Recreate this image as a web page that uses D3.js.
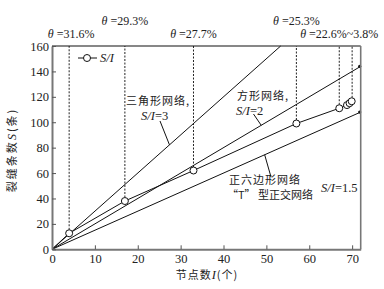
<!DOCTYPE html>
<html><head><meta charset="utf-8">
<script src="https://cdn.jsdelivr.net/npm/d3@7"></script>
<style>body{margin:0;background:#fff}svg{display:block}</style>
</head><body>
<svg id="c" width="384" height="289"></svg>
<script>
const nodesI = [0, 4, 17, 33, 57, 67, 68.8, 69.4, 69.9];
const cracksS = [0, 12.6, 38, 62, 99, 111, 113.5, 115, 116.5];
const dashI = [4, 17, 33, 57, 67, 70];
const thetaAt = [4, 17, 33, 57, 67];
const thetaText = ["31.6%", "29.3%", "27.7%", "25.3%", "22.6%~3.8%"];
const thetaRow = [0, 1, 0, 1, 0];
const ratios = [3, 2, 1.5];
const xTicks = [0, 10, 20, 30, 40, 50, 60, 70];
const yTicks = [0, 20, 40, 60, 80, 100, 120, 140, 160];

const W = 384, H = 289, m = {l: 52, r: 23.3, t: 46, b: 39.7};
const svg = d3.select("#c");
const x = d3.scaleLinear().domain([0, 72]).range([m.l, W - m.r]);
const y = d3.scaleLinear().domain([0, 160]).range([H - m.b, m.t]);
const serif = "'Liberation Serif','DejaVu Serif',serif";
const cjk = "'Noto Sans CJK SC',sans-serif";

// dashed verticals
svg.selectAll(".dash").data(dashI).join("line")
  .attr("x1", d => x(d)).attr("x2", d => x(d))
  .attr("y1", d => {
    const j = nodesI.findIndex(v => Math.abs(v - d) < 0.5);
    return j >= 0 ? y(cracksS[j]) - 3.5 : y(cracksS[cracksS.length - 1]) - 3.5;
  })
  .attr("y2", y(160))
  .attr("stroke", "#222").attr("stroke-width", 1).attr("stroke-dasharray", "2,1.5");

// ratio lines
ratios.forEach(r => {
  const xe = Math.min(72, 160 / r);
  svg.append("line").attr("x1", x(0)).attr("y1", y(0)).attr("x2", x(xe)).attr("y2", y(xe * r))
    .attr("stroke", "#111").attr("stroke-width", 1);
  if (xe === 72) svg.append("circle").attr("cx", x(xe) - 1).attr("cy", y(xe * r)).attr("r", 1.6).attr("fill", "#111");
});

// data line
svg.append("path").datum(nodesI.map((d, i) => [d, cracksS[i]]))
  .attr("d", d3.line().x(d => x(d[0])).y(d => y(d[1])))
  .attr("fill", "none").attr("stroke", "#111").attr("stroke-width", 1);
svg.selectAll(".pt").data(nodesI.slice(1).map((d, i) => [d, cracksS[i + 1]])).join("circle")
  .attr("cx", d => x(d[0])).attr("cy", d => y(d[1])).attr("r", 3.5)
  .attr("fill", "#fff").attr("stroke", "#111").attr("stroke-width", 1);

// frame
svg.append("line").attr("x1", x(0)).attr("x2", x(72)).attr("y1", y(160)).attr("y2", y(160)).attr("stroke", "#111").attr("stroke-width", 1.2);
svg.append("line").attr("x1", x(72)).attr("x2", x(72)).attr("y1", y(160)).attr("y2", y(0)).attr("stroke", "#777").attr("stroke-width", 1.6);

// axes
const xa = svg.append("g").attr("transform", `translate(0,${y(0)})`)
  .call(d3.axisBottom(x).tickValues(xTicks).tickSize(-4).tickPadding(5).tickSizeOuter(0));
const ya = svg.append("g").attr("transform", `translate(${x(0)},0)`)
  .call(d3.axisLeft(y).tickValues(yTicks).tickSize(-4).tickPadding(3).tickSizeOuter(0));
[xa, ya].forEach(g => {
  g.select(".domain").attr("stroke", "#777").attr("stroke-width", 2);
  g.selectAll(".tick line").attr("stroke", "#555");
  g.selectAll("text").attr("font-family", serif).attr("font-size", 12.5).attr("fill", "#222");
});

// axis titles
const xt = svg.append("text").attr("x", 207).attr("y", 279).attr("text-anchor", "middle")
  .attr("font-size", 11).attr("fill", "#222").attr("letter-spacing", 1);
xt.append("tspan").attr("font-family", cjk).text("节点数");
xt.append("tspan").attr("font-family", serif).attr("font-style", "italic").attr("font-size", 12.5).text("I");
xt.append("tspan").attr("font-family", cjk).text("(个)");
const yt = svg.append("text").attr("transform", "translate(16,150) rotate(-90)").attr("text-anchor", "middle")
  .attr("font-size", 11).attr("fill", "#222").attr("letter-spacing", 2);
yt.append("tspan").attr("font-family", cjk).text("裂缝条数");
yt.append("tspan").attr("font-family", serif).attr("font-style", "italic").attr("font-size", 12.5).text("S");
yt.append("tspan").attr("font-family", cjk).text("(条)");

// theta labels
thetaAt.forEach((d, i) => {
  const t = svg.append("text").attr("x", x(d) + (i === 0 ? 2 : 0)).attr("y", thetaRow[i] ? 25 : 38)
    .attr("text-anchor", "middle").attr("font-family", serif).attr("font-size", 12).attr("fill", "#222");
  t.append("tspan").attr("font-style", "italic").text("θ");
  t.append("tspan").text(" =" + thetaText[i]);
});

// legend
svg.append("line").attr("x1", 78).attr("x2", 97).attr("y1", 58).attr("y2", 58).attr("stroke", "#111");
svg.append("circle").attr("cx", 87).attr("cy", 58).attr("r", 3.5).attr("fill", "#fff").attr("stroke", "#111");
svg.append("text").attr("x", 100).attr("y", 62).attr("font-family", serif).attr("font-style", "italic")
  .attr("font-size", 12.5).attr("fill", "#222").text("S/I");

// annotations
function note(lines, x0, y0, lh, ls) {
  lines.forEach((ln, k) => {
    const t = svg.append("text").attr("x", x0[k]).attr("y", y0 + k * lh).attr("font-size", 11).attr("fill", "#222");
    ln.forEach(p => t.append("tspan").attr("font-family", p[1] ? serif : cjk)
      .attr("font-style", p[1] === 2 ? "italic" : null).attr("font-size", p[1] ? 12.5 : 11)
      .attr("letter-spacing", p[1] ? 0 : (ls ? ls[k] : 1)).text(p[0]));
  });
}
function leader(x1, y1, x2, y2) {
  svg.append("line").attr("x1", x1).attr("y1", y1).attr("x2", x2).attr("y2", y2).attr("stroke", "#111");
}
note([[["三角形网络,", 0]], [["S/I", 2], ["=3", 1]]], [126, 141], 105, 15);
leader(160, 121, x(27.4), y(27.4 * 3));
note([[["方形网络,", 0]], [["S/I", 2], ["=2", 1]]], [237, 236], 100, 15);
leader(253.5, 114, x(48.8), y(48.8 * 2));
note([[["正六边形网络", 0]], [["“T” 型正交网络", 0]]], [229, 227], 184, 15, [1, 0]);
note([[["S/I", 2], ["=1.5", 1]]], [321], 192, 0);
leader(271, 177, x(49.6), y(49.6 * 1.5));
</script>
</body></html>
